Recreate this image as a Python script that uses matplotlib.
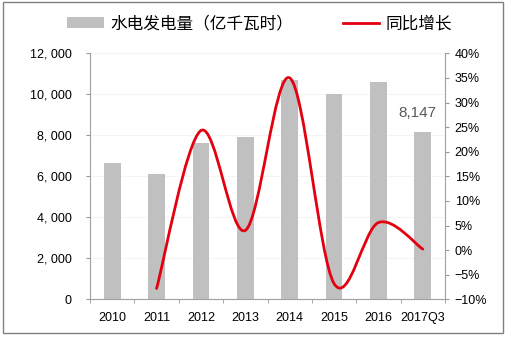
import numpy as np
import matplotlib
matplotlib.use("Agg")
import matplotlib.pyplot as plt
from matplotlib.patches import Rectangle, Patch
from matplotlib.lines import Line2D
from matplotlib.path import Path
from matplotlib.patches import PathPatch
from matplotlib.ticker import FuncFormatter

plt.rcParams['font.family'] = ['Liberation Sans', 'Noto Sans CJK SC', 'DejaVu Sans']

years = ["2010", "2011", "2012", "2013", "2014", "2015", "2016", "2017Q3"]
generation = [6630, 6100, 7610, 7920, 10680, 10010, 10590, 8147]
# year-on-year growth (%), starting from 2011
growth_years = ["2011", "2012", "2013", "2014", "2015", "2016", "2017Q3"]
growth = [-7.8, 24.3, 4.0, 35.0, -6.8, 5.6, 0.2]

bar_label = "水电发电量（亿千瓦时）"
line_label = "同比增长"

W, H = 507, 338
fig = plt.figure(figsize=(W / 100, H / 100), dpi=100)
ax = fig.add_axes([90 / W, 1 - 299.3 / H, (445 - 90) / W, (299.3 - 53.3) / H])

x = np.arange(len(years))
ax.bar(x, generation, width=0.38, color="#c0c0c0", zorder=2)
ax.set_xlim(-0.5, len(years) - 0.5)
ax.set_ylim(0, 12000)
ax.set_yticks(np.arange(0, 12001, 2000))
ax.yaxis.set_major_formatter(FuncFormatter(lambda v, p: f"{int(v):,}".replace(",", ", ")))
ax.set_xticks(x)
ax.set_xticklabels(years)
ax.set_xticks(np.arange(-0.5, len(years), 1), minor=True)
ax.tick_params(axis="x", which="major", length=0, pad=9, labelsize=9)
ax.tick_params(axis="x", which="minor", length=3, direction="out", color="#999999")
ax.tick_params(axis="y", length=3, direction="out", pad=10, labelsize=9, color="#999999")
for s in ("top", "right"):
    ax.spines[s].set_visible(False)
for s in ("left", "bottom"):
    ax.spines[s].set_color("#a0a0a0")
ax.grid(axis="y", color="#f3f3f3", linewidth=0.6, zorder=0)
ax.set_axisbelow(True)

# value label on the last bar
ax.text(x[-1] - 0.12, generation[-1] + 600, f"{generation[-1]:,}", ha="center", va="bottom",
        fontsize=11, color="#595959")

ax2 = ax.twinx()
ax2.set_ylim(-10, 40)
ax2.set_yticks(np.arange(-10, 41, 5))
ax2.yaxis.set_major_formatter(FuncFormatter(lambda v, p: f"{int(v)}%".replace("-", "\u2212")))
ax2.tick_params(axis="y", length=3, direction="out", pad=4, labelsize=9, color="#999999")
for s in ("top", "left", "bottom"):
    ax2.spines[s].set_visible(False)
ax2.spines["right"].set_color("#a0a0a0")

# smoothed growth curve (cubic Bezier through each point)
gx = np.array([years.index(y) for y in growth_years], dtype=float)
gy = np.array(growth, dtype=float)
pts = np.column_stack([gx, gy])
verts = [tuple(pts[0])]
codes = [Path.MOVETO]
n = len(pts)
for i in range(n - 1):
    p0 = pts[i - 1] if i > 0 else pts[i]
    p1 = pts[i]
    p2 = pts[i + 1]
    p3 = pts[i + 2] if i + 2 < n else pts[i + 1]
    c1 = p1 + (p2 - p0) / 6.0
    c2 = p2 - (p3 - p1) / 6.0
    verts += [tuple(c1), tuple(c2), tuple(p2)]
    codes += [Path.CURVE4] * 3
ax2.add_patch(PathPatch(Path(verts, codes), facecolor="none", edgecolor="#e3000f",
                        linewidth=2.0, capstyle="round", zorder=3))

handles = [Patch(facecolor="#c0c0c0", edgecolor="none"),
           Line2D([0], [0], color="#e3000f", linewidth=2.0)]
fig.legend(handles, [bar_label, line_label], loc="center", bbox_to_anchor=(0.512, 1 - 24 / H),
           ncol=2, frameon=False, prop={"family": ["Noto Sans CJK SC"], "size": 12},
           handlelength=2.2, handleheight=0.6, columnspacing=3.0, handletextpad=0.35)

fig.add_artist(Rectangle((2.7 / W, 1 - 333.3 / H), (502.7 - 2.7) / W, (333.3 - 1.7) / H,
                         transform=fig.transFigure, fill=False, edgecolor="#808080",
                         linewidth=1.0))

fig.savefig("out.png", dpi=100)
